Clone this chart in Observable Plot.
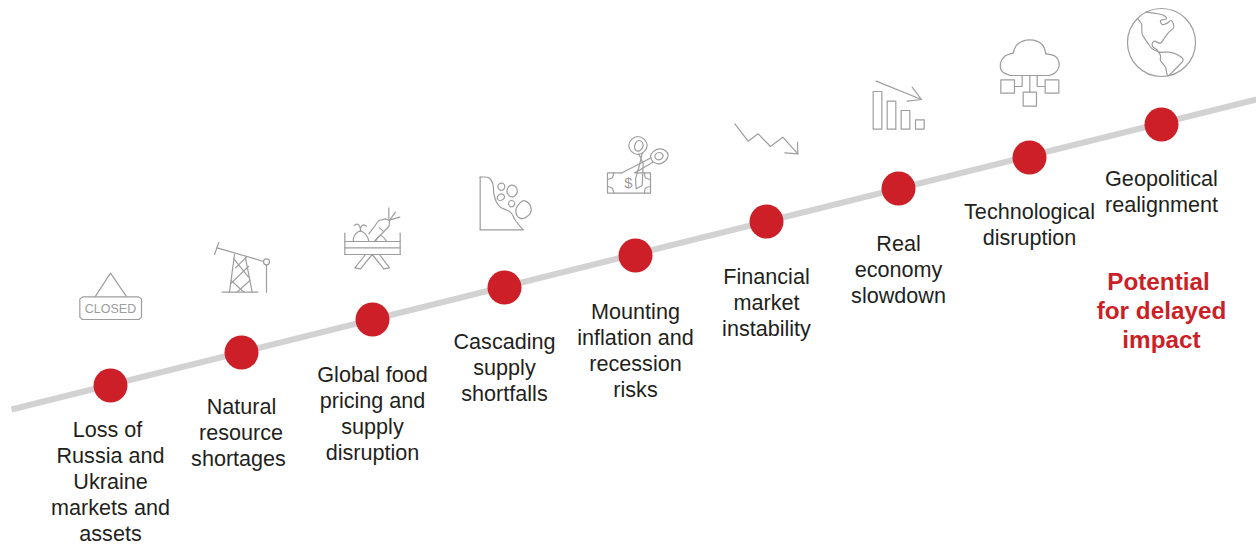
<!DOCTYPE html>
<html><head><meta charset="utf-8">
<script src="https://cdn.jsdelivr.net/npm/d3@7"></script>
<script src="https://cdn.jsdelivr.net/npm/@observablehq/plot@0.6"></script>
<style>html,body{margin:0;padding:0;background:#fff}svg{display:block}</style>
</head><body>
<script>
const RED = "#cc1f27", GREY = "#9d9d9d";
const stages = [
 ["Loss of","Russia and","Ukraine","markets and","assets"],
 ["Natural","resource","shortages"],
 ["Global food","pricing and","supply","disruption"],
 ["Cascading","supply","shortfalls"],
 ["Mounting","inflation and","recession","risks"],
 ["Financial","market","instability"],
 ["Real","economy","slowdown"],
 ["Technological","disruption"],
 ["Geopolitical","realignment"]
];
const dotX = [110,241,372,504,635,766,898,1029,1161];
const dotY = [385,352,319,287,255,221,188,157,124];
const labelX = [110,238,372,504,635,766,898,1029,1161];
const labelY = [430,407,375,342,312,277,244,212,179];
const lineNudge = {"Loss of":-3,"Natural":3,"resource":2.5};
const lineStep = 26;
const trackX = [11,1256];
const trackY = [409,99];
const noteLines = ["Potential","for delayed","impact"];
const noteX = [1158,1161,1161];
const noteY = [281.5,311,340];

// Icon outlines: origin of the crop, then strokes in crop units (1/3 px)
const sharp = [
 [[60,230],[[105,197],[150,128],[197,197]]],
 [[60,230],[[66,199],[235,199],[243,206],[243,260],[235,267],[66,267],[58,260],[58,206],[66,199]]],
 [[60,230],[[462,72],[475,36]],[[470,52],[610,93]],[[618,104],[618,185]],[[485,185],[592,185]],[[522,72],[507,185]],[[555,82],[575,185]],[[525,112],[558,80]],[[520,85],[564,140]],[[564,108],[510,160]],[[512,150],[550,185]],[[568,150],[530,185]]],
 [[330,170],[[43,188],[43,252]],[[209,188],[209,252]],[[43,213],[209,213]],[[43,232],[209,232]],[[43,252],[209,252]],[[105,252],[73,292],[90,295],[125,252],[160,295],[177,292],[147,252]],[[115,190],[145,150],[165,145],[178,150],[175,168],[132,212]],[[175,145],[175,112]],[[178,148],[195,125]],[[178,148],[208,140]],[[147,172],[158,182]],[[449,178],[449,20]],[[449,178],[578,178]]],
 [[595,120],[[80,157],[36,157],[36,218],[165,218],[165,157],[118,157]],[[167,112],[80,157]],[[172,125],[118,157]],[[130,100],[143,130],[140,195],[122,205],[120,175],[133,130],[140,98]]],
 [[595,120],[[418,10],[458,62],[488,40],[525,78],[562,50],[607,100]],[[568,97],[607,100],[606,65]]],
 [[860,30],[[38,183],[64,183],[64,296],[38,296],[38,183]],[[80,212],[106,212],[106,296],[80,296],[80,212]],[[122,240],[148,240],[148,296],[122,296],[122,240]],[[165,268],[191,268],[191,296],[165,296],[165,268]],[[47,152],[183,207]],[[140,212],[183,207],[155,170]]],
 [[860,30],[[421,148],[462,148],[462,188],[421,188],[421,148]],[[554,148],[595,148],[595,188],[554,188],[554,148]],[[488,185],[528,185],[528,227],[488,227],[488,185]],[[508,135],[508,185]],[[485,135],[485,168],[462,168]],[[530,135],[530,168],[554,168]],[[450,135],[565,135]]]
];
const smooth = [
 [[330,170],[[68,212],[72,195],[90,182],[108,195],[115,212]],[[90,182],[88,168],[80,161],[71,165]],[[90,172],[98,163],[108,167]],[[135,212],[150,195],[168,212]],
  [[449,20],[475,22],[487,40],[490,70],[498,95],[510,110],[540,125],[555,150],[578,178]]],
 [[595,120],[[36,177],[50,172],[55,157]],[[147,157],[150,172],[165,177]],[[36,198],[50,203],[55,218]],[[147,218],[150,203],[165,198]]],
 [[860,30],[[450,135],[424,122],[420,98],[432,78],[458,68]],[[458,68],[470,42],[508,28],[545,42],[556,70]],[[556,70],[585,78],[596,105],[585,126],[565,135]]],
 [[1110,0],[[82,55],[93,70],[95,100],[110,125],[125,145],[148,155],[175,155],[205,165],[218,178],[205,195],[190,210],[172,225],[165,200],[150,180],[150,165],[140,150]],
  [[105,35],[130,38],[160,45],[168,55],[150,60],[155,72],[170,68],[182,60],[190,80],[175,95],[160,115],[150,128],[130,122],[125,135],[140,148]]]
];
const loops = [
 [[330,170],[[513,38],[523,48],[513,60],[502,48]],[[545,44],[560,58],[550,78],[533,72],[531,54]],[[512,70],[522,80],[510,90],[500,82]],[[543,90],[553,99],[543,109],[534,99]],[[585,92],[602,115],[590,138],[568,143],[556,122],[566,100]]],
 [[595,120],[[127,48],[155,75],[127,102],[100,75]],[[130,60],[143,75],[128,92],[117,78]],[[192,85],[218,105],[190,130],[165,108]],[[190,96],[203,106],[190,118],[178,108]]]
];
// Stroke tables handed to Plot: one row per vertex, z keeps strokes apart
const toRows = icons => icons.flatMap(([o,...strokes],i) => strokes.flatMap((s,j) => s.map(([a,b]) => ({x:o[0]+a/3,y:o[1]+b/3,z:`${i}-${j}`}))));
const stageRows = stages.flatMap((lines,i) => lines.map((t,j) => ({t,x:labelX[i]+(lineNudge[t]||0),y:labelY[i]+j*lineStep})));
const iconLine = (rows,curve,extra={}) => Plot.line(rows,{x:"x",y:"y",z:"z",curve,stroke:GREY,strokeWidth:1.2,fill:"none",...extra});

const plot = Plot.plot({
  width:1256,height:546,margin:0,
  style:{background:"#fff",fontFamily:"'Liberation Sans',Arial,sans-serif"},
  x:{domain:[0,1256],range:[0,1256],axis:null},
  y:{domain:[0,546],range:[0,546],axis:null},
  marks:[
    Plot.line(trackX.map((x,i)=>({x,y:trackY[i]})),{x:"x",y:"y",stroke:"#d2d2d2",strokeWidth:6,strokeLinecap:"butt"}),
    iconLine(toRows(sharp),"linear"),
    iconLine(toRows(smooth),"catmull-rom"),
    iconLine(toRows(loops),"cardinal-closed",{tension:-0.5}),
    Plot.dot([{x:266,y:261.3}],{x:"x",y:"y",r:3,stroke:GREY,strokeWidth:1.2,fill:"#fff"}),
    Plot.dot([{x:1161,y:42}],{x:"x",y:"y",r:34,stroke:GREY,strokeWidth:1.2,fill:"none"}),
    Plot.text(["CLOSED"],{x:()=>110,y:()=>308.5,fontSize:12.5,fill:GREY,text:d=>d,textAnchor:"middle",style:{letterSpacing:"0.6px"}}),
    Plot.text(["$"],{x:()=>628,y:()=>182.5,fontSize:15,fill:GREY,text:d=>d,textAnchor:"middle"}),
    Plot.dot(dotX.map((x,i)=>({x,y:dotY[i]})),{x:"x",y:"y",r:17,fill:RED}),
    Plot.text(stageRows,{x:"x",y:"y",text:"t",fontSize:21.6,fill:"#231f20",textAnchor:"middle"}),
    Plot.text(noteLines.map((t,i)=>({t,x:noteX[i],y:noteY[i]})),{x:"x",y:"y",text:"t",fontSize:24.3,fontWeight:"bold",fill:RED,textAnchor:"middle"})
  ]
});
document.body.append(plot);
</script>
</body></html>
